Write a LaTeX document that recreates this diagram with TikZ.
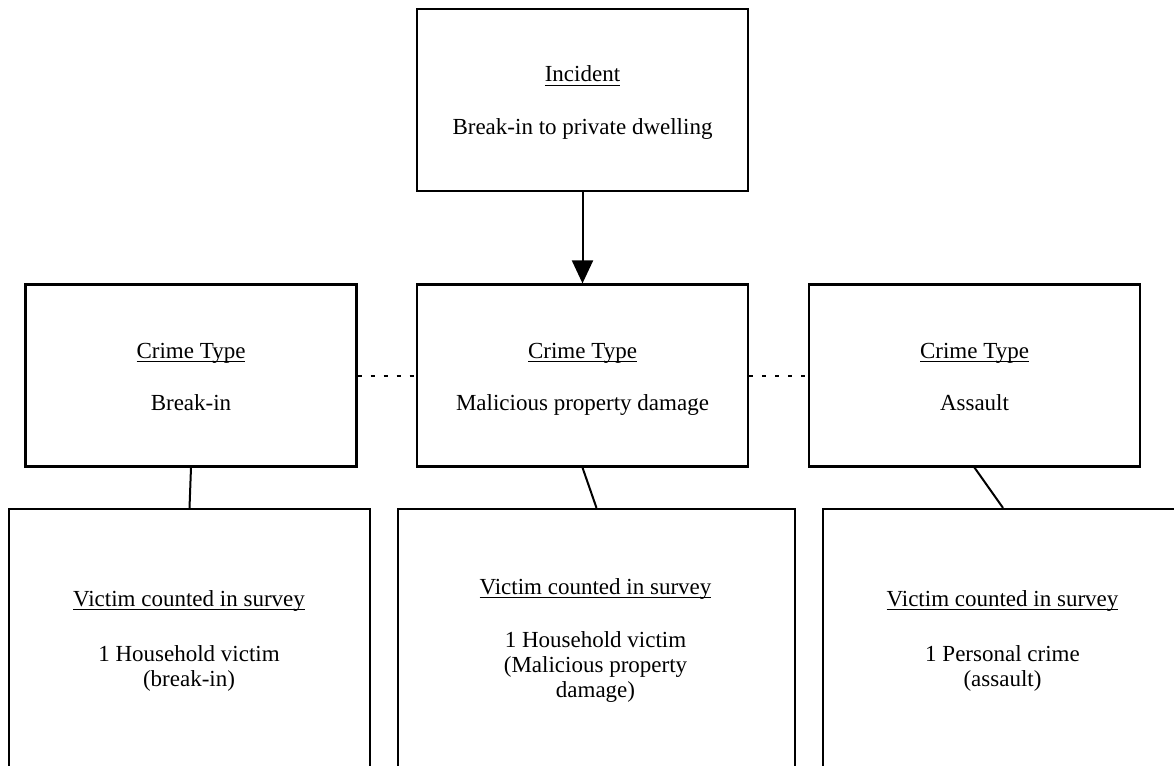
\documentclass[tikz,border=0pt]{standalone}
\usepackage{fontspec}
\setmainfont{Liberation Serif}
\usetikzlibrary{arrows.meta,calc}
\newcommand\ulx[1]{\setbox0\hbox{#1}\rlap{\rule[-4pt]{\wd0}{1.2pt}}\box0}
\begin{document}
\begin{tikzpicture}[x=1pt,y=-1pt,
  boxA/.style={draw,line width=2.2pt,inner sep=0pt,minimum width=331pt,minimum height=182pt},
  boxB/.style={draw,line width=2.2pt,inner sep=0pt,minimum height=290pt},
  conn/.style={line width=2pt},
  dotline/.style={line width=2pt,dash pattern=on 4pt off 9pt},
  txt/.style={anchor=base,inner sep=0pt,font=\fontsize{23}{25}\selectfont}]
\useasboundingbox (0,0) rectangle (1174,765);
\fill[white] (0,0) rectangle (1174,765);
\clip (0,0) rectangle (1174,765);
% boxes
\node[boxA] (top) at (582.5,100) {};
\node[boxA] (midL) at (191,375.5) {};
\node[boxA] (midM) at (582.5,375.5) {};
\node[boxA] (midR) at (974.5,375.5) {};
\node[boxB,minimum width=361pt] (botL) at (189.5,654) {};
\node[boxB,minimum width=397pt] (botM) at (596.5,654) {};
\node[boxB,minimum width=360pt] (botR) at (1003,654) {};
% connectors
\draw[conn,-{Triangle[width=21pt,length=23pt]}] (top.south) -- (midM.north);
\draw[conn] (midL.south) -- (botL.north);
\draw[conn] (midM.south) -- (botM.north);
\draw[conn] (midR.south) -- (botR.north);
\draw[dotline] (midL.east) -- (midM.west);
\draw[dotline] (midM.east) -- (midR.west);
% texts
\node[txt] (tH) at (582.5,82) {\ulx{Incident}};
\node[txt] (tB) at (582.5,135) {Break-in to private dwelling};
\node[txt] (lH) at (191,358) {\ulx{Crime Type}};
\node[txt] (lB) at (191,410) {Break-in};
\node[txt] (mH) at (582.5,358) {\ulx{Crime Type}};
\node[txt] (mB) at (582.5,410) {Malicious property damage};
\node[txt] (rH) at (974.5,358) {\ulx{Crime Type}};
\node[txt] (rB) at (974.5,410) {Assault};
\node[txt] (blH) at (189,606) {\ulx{Victim counted in survey}};
\node[txt] (blB1) at (189,661) {1 Household victim};
\node[txt] (blB2) at (189,686) {(break-in)};
\node[txt] (bmH) at (595.5,594) {\ulx{Victim counted in survey}};
\node[txt] (bmB1) at (595.5,647) {1 Household victim};
\node[txt] (bmB2) at (595.5,672) {(Malicious property};
\node[txt] (bmB3) at (595.5,697) {damage)};
\node[txt] (brH) at (1002.5,606) {\ulx{Victim counted in survey}};
\node[txt] (brB1) at (1002.5,661) {1 Personal crime};
\node[txt] (brB2) at (1002.5,686) {(assault)};
\end{tikzpicture}
\end{document}
